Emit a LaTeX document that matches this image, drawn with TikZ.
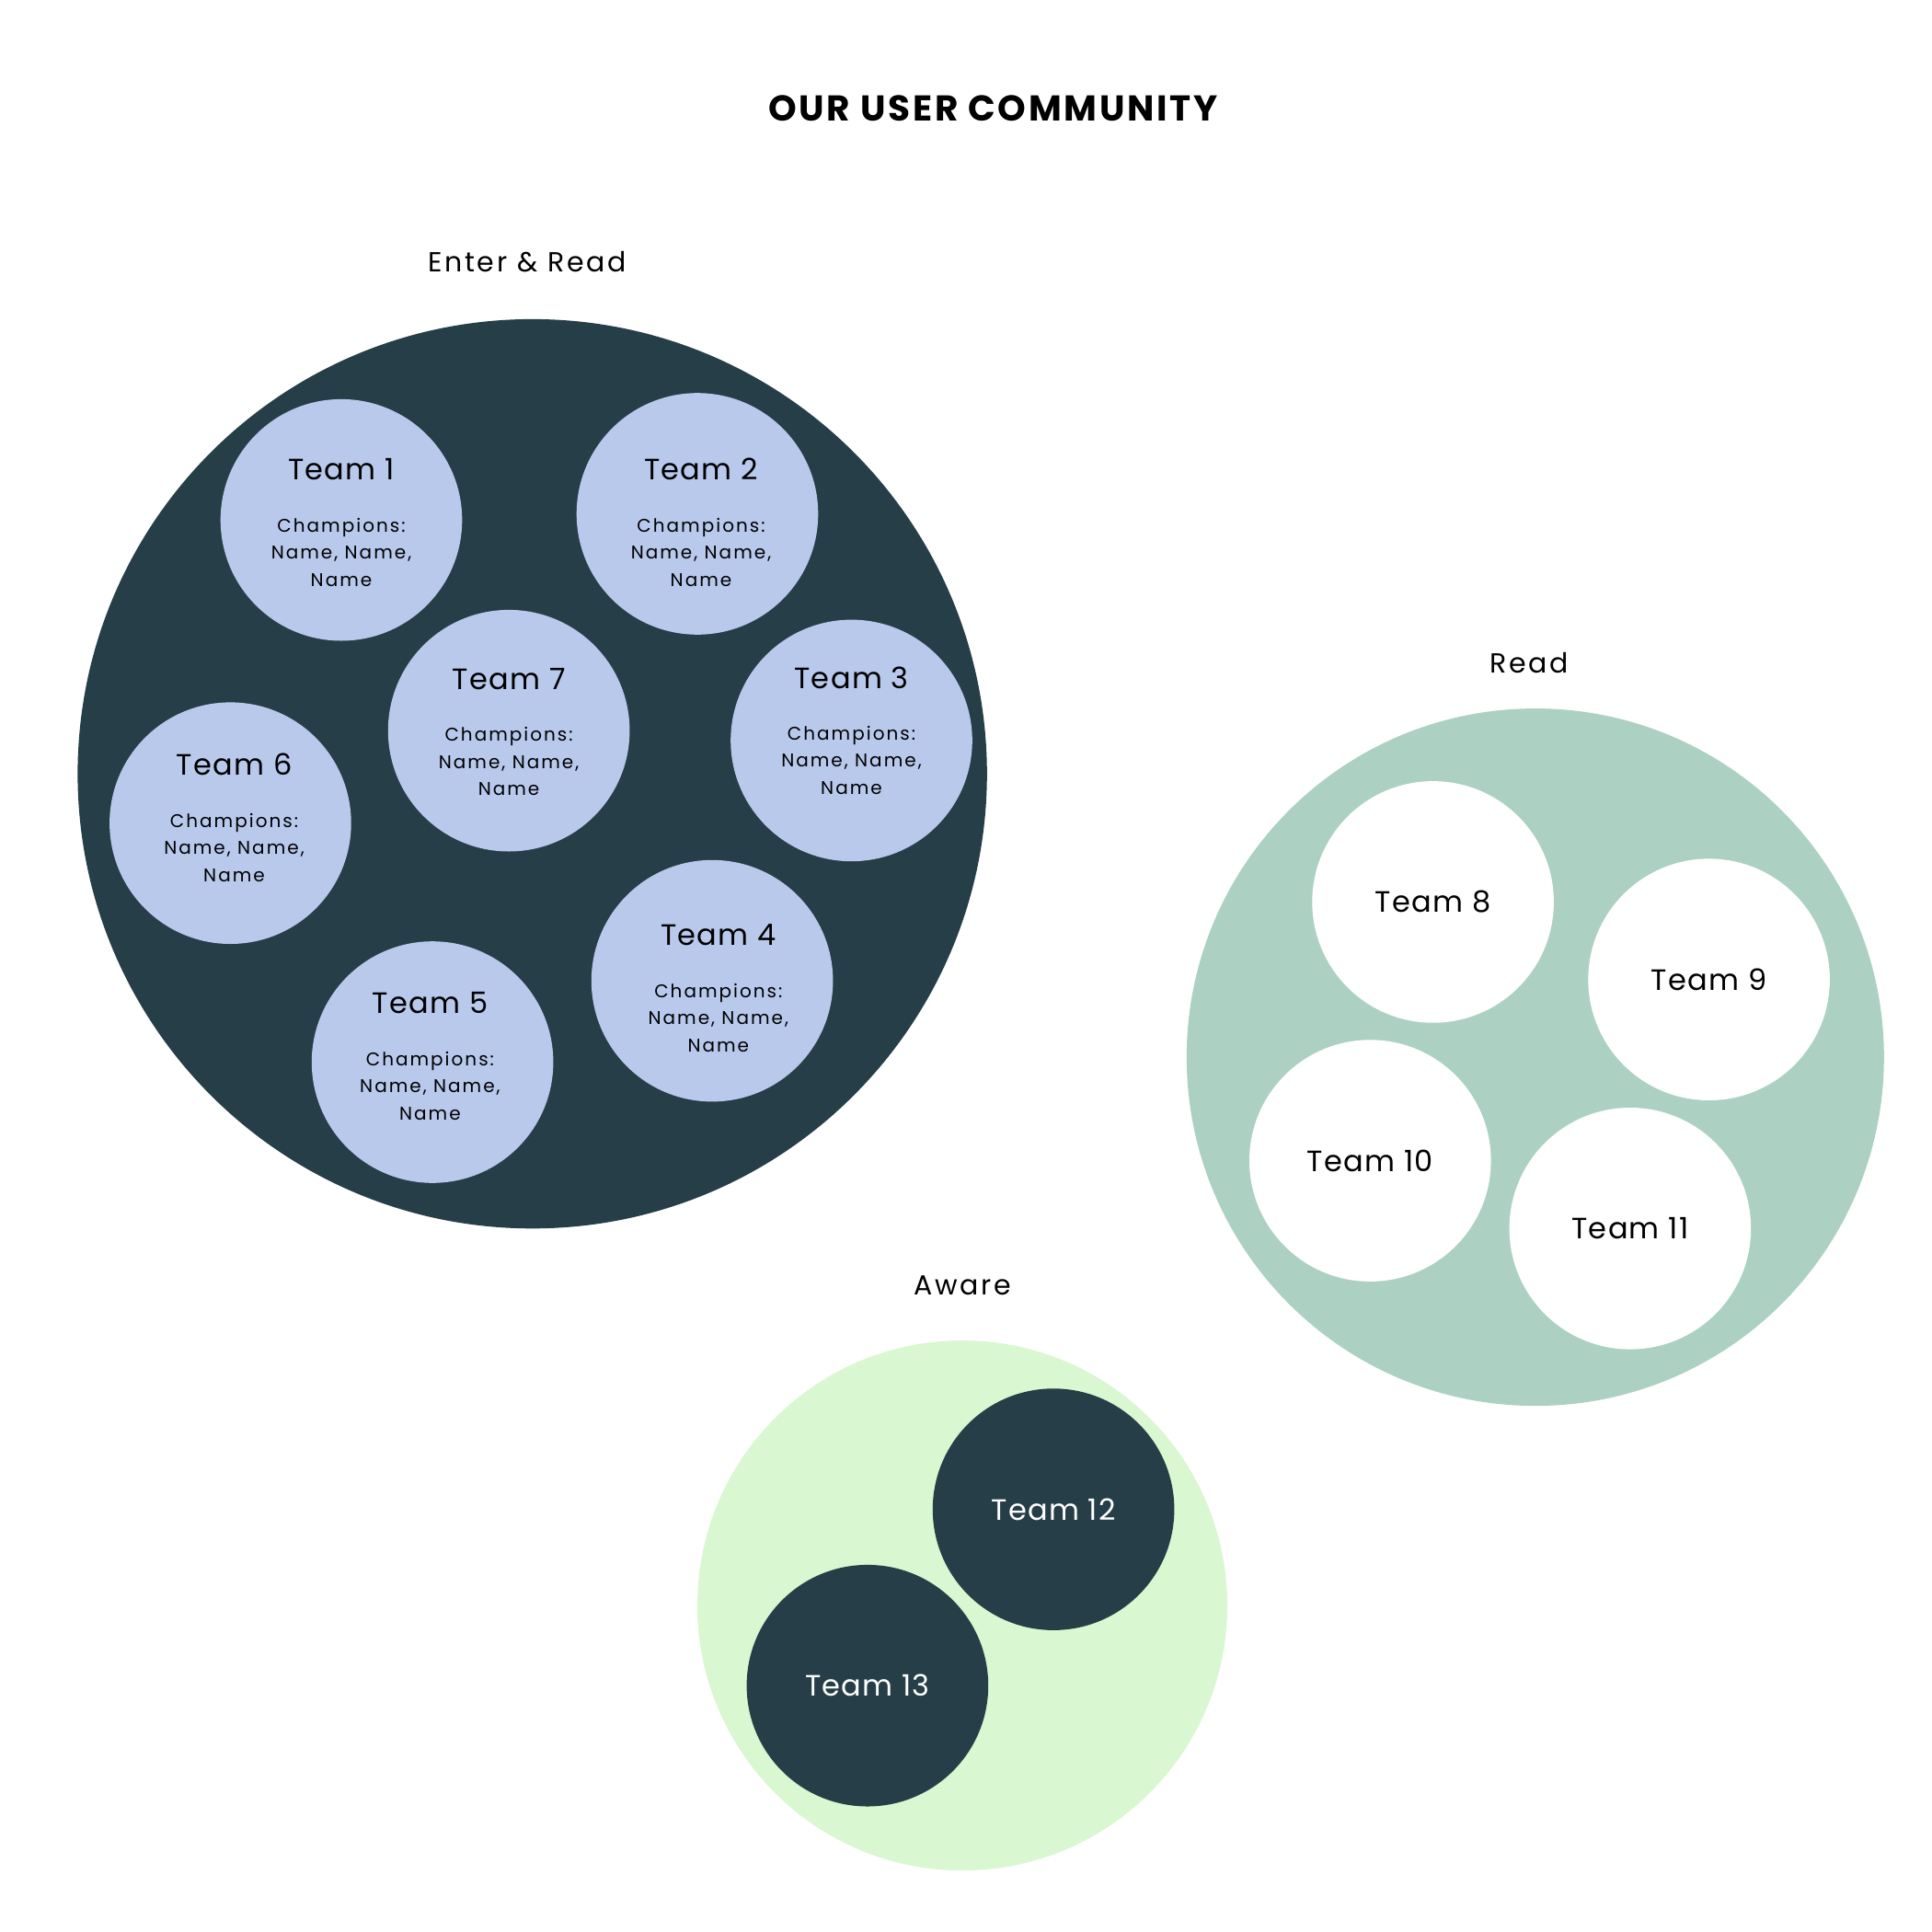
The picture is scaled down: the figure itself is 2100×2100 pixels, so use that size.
\documentclass[tikz,border=0pt]{standalone}
\usepackage{fontspec}
\usetikzlibrary{calc}
\setmainfont{Poppins}
\newfontfamily\titlefont[LetterSpace=7]{Poppins}
\newfontfamily\teamfont[LetterSpace=4]{Poppins}
\newfontfamily\champfont[LetterSpace=10]{Poppins}
\newfontfamily\secfont[LetterSpace=9]{Poppins}
\definecolor{darkteal}{HTML}{263E47}
\definecolor{lightblue}{HTML}{B9C9EC}
\definecolor{mint}{HTML}{ACD1C3}
\definecolor{palegreen}{HTML}{D9F7D0}
\begin{document}
\begin{tikzpicture}[x=1pt,y=-1pt,
  group/.style={circle,inner sep=0pt,draw=none},
  team/.style={circle,inner sep=0pt,minimum size=262.6pt,draw=none},
  teamlbl/.style={font=\teamfont\fontsize{32}{38}\selectfont,inner sep=0pt},
  champ/.style={font=\champfont\fontsize{20}{29.5}\selectfont,align=center,inner sep=0pt},
  seclbl/.style={font=\secfont\fontsize{30}{36}\selectfont,inner sep=0pt}]
\useasboundingbox[fill=white] (0,0) rectangle (2100,2100);
\node[font=\titlefont\bfseries\fontsize{39}{46}\selectfont] (title) at (1079.5,118) {OUR USER COMMUNITY};
% Enter & Read
\node[seclbl] (lblA) at (573,285) {Enter \& Read};
\node[group,fill=darkteal,minimum size=988.4pt] (gA) at (578.6,841.1) {};
\foreach \n/\x/\y/\lx/\ty/\cy in {1/371/565.2/371/510.3/600, 2/758/558.5/762/510.3/600, 7/553.1/794.2/553.1/738/827.7, 3/925.5/804.9/925.5/736.6/826.3, 6/250.4/894.7/254.5/830.4/921.4, 4/774.1/1066.1/780.8/1016.5/1106.3, 5/470.1/1154.5/467.4/1090.2/1180}{
  \node[team,fill=lightblue] (t\n) at (\x,\y) {};
  \node[teamlbl] (t\n lbl) at (\lx,\ty) {Team \n};
  \node[champ] (t\n ch) at (\lx,\cy) {Champions:\\Name, Name,\\Name};
}
% Read
\node[seclbl] (lblB) at (1662,720.5) {Read};
\node[group,fill=mint,minimum size=758pt] (gB) at (1668.8,1149.1) {};
\foreach \n/\x/\y in {8/1557.6/980.4, 9/1857.6/1064.7, 10/1489.3/1261.6, 11/1771.9/1335.3}{
  \node[team,fill=white] (t\n) at (\x,\y) {};
  \node[teamlbl] (t\n lbl) at (t\n) {Team \n};
}
% Aware
\node[seclbl] (lblC) at (1046,1397) {Aware};
\node[group,fill=palegreen,minimum size=576pt] (gC) at (1046,1745.1) {};
\foreach \n/\x/\y in {12/1145.1/1640.6, 13/942.9/1832.2}{
  \node[team,fill=darkteal] (t\n) at (\x,\y) {};
  \node[teamlbl,text=white] (t\n lbl) at (t\n) {Team \n};
}
\end{tikzpicture}
\end{document}
